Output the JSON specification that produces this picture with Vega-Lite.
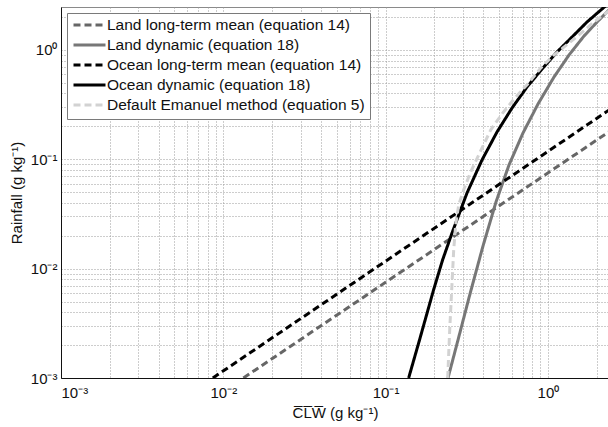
{
  "$schema": "https://vega.github.io/schema/vega-lite/v6.json",
  "width": 548,
  "height": 371,
  "autosize": {"type": "none"},
  "padding": {"left": 61, "top": 7, "right": 0, "bottom": 49},
  "background": "white",
  "config": {
    "view": {"stroke": "#8a8a8a", "strokeWidth": 1},
    "font": "Liberation Sans",
    "axis": {
      "labelFont": "Liberation Sans",
      "titleFont": "Liberation Sans",
      "labelFontSize": 15,
      "titleFontSize": 15,
      "titleFontWeight": "normal",
      "labelColor": "#111",
      "titleColor": "#111",
      "domainColor": "#111",
      "domainWidth": 1,
      "grid": true,
      "gridDash": [1, 2],
      "gridColor": "#9a9a9a",
      "gridWidth": 1,
      "ticks": false,
      "labelOverlap": false
    },
    "legend": {
      "labelFont": "Liberation Sans",
      "labelFontSize": 15.5,
      "labelColor": "#111",
      "labelLimit": 400
    }
  },
  "data": {
    "values": [
      {"s": "Land long-term mean (equation 14)", "x": 0.0133, "y": 0.001},
      {"s": "Land long-term mean (equation 14)", "x": 0.1, "y": 0.0075},
      {"s": "Land long-term mean (equation 14)", "x": 1.0, "y": 0.075},
      {"s": "Land long-term mean (equation 14)", "x": 2.38, "y": 0.1785},

      {"s": "Land dynamic (equation 18)", "x": 0.2424, "y": 0.001},
      {"s": "Land dynamic (equation 18)", "x": 0.2793, "y": 0.002223},
      {"s": "Land dynamic (equation 18)", "x": 0.3311, "y": 0.005861},
      {"s": "Land dynamic (equation 18)", "x": 0.3982, "y": 0.01609},
      {"s": "Land dynamic (equation 18)", "x": 0.4788, "y": 0.04064},
      {"s": "Land dynamic (equation 18)", "x": 0.5758, "y": 0.08858},
      {"s": "Land dynamic (equation 18)", "x": 0.7023, "y": 0.1738},
      {"s": "Land dynamic (equation 18)", "x": 0.869, "y": 0.3201},
      {"s": "Land dynamic (equation 18)", "x": 1.0904, "y": 0.5651},
      {"s": "Land dynamic (equation 18)", "x": 1.349, "y": 0.8983},
      {"s": "Land dynamic (equation 18)", "x": 1.669, "y": 1.34},
      {"s": "Land dynamic (equation 18)", "x": 2.007, "y": 1.799},
      {"s": "Land dynamic (equation 18)", "x": 2.379, "y": 2.317},

      {"s": "Ocean long-term mean (equation 14)", "x": 0.00862, "y": 0.001},
      {"s": "Ocean long-term mean (equation 14)", "x": 0.1, "y": 0.0117},
      {"s": "Ocean long-term mean (equation 14)", "x": 1.0, "y": 0.118},
      {"s": "Ocean long-term mean (equation 14)", "x": 2.38, "y": 0.282},

      {"s": "Ocean dynamic (equation 18)", "x": 0.1387, "y": 0.001},
      {"s": "Ocean dynamic (equation 18)", "x": 0.1621, "y": 0.002247},
      {"s": "Ocean dynamic (equation 18)", "x": 0.1978, "y": 0.00643},
      {"s": "Ocean dynamic (equation 18)", "x": 0.2248, "y": 0.01208},
      {"s": "Ocean dynamic (equation 18)", "x": 0.2566, "y": 0.02116},
      {"s": "Ocean dynamic (equation 18)", "x": 0.3173, "y": 0.04913},
      {"s": "Ocean dynamic (equation 18)", "x": 0.3926, "y": 0.09843},
      {"s": "Ocean dynamic (equation 18)", "x": 0.4857, "y": 0.1775},
      {"s": "Ocean dynamic (equation 18)", "x": 0.6008, "y": 0.2942},
      {"s": "Ocean dynamic (equation 18)", "x": 0.7433, "y": 0.4578},
      {"s": "Ocean dynamic (equation 18)", "x": 0.9196, "y": 0.6686},
      {"s": "Ocean dynamic (equation 18)", "x": 1.138, "y": 0.9568},
      {"s": "Ocean dynamic (equation 18)", "x": 1.408, "y": 1.312},
      {"s": "Ocean dynamic (equation 18)", "x": 1.741, "y": 1.799},
      {"s": "Ocean dynamic (equation 18)", "x": 2.154, "y": 2.366},
      {"s": "Ocean dynamic (equation 18)", "x": 2.379, "y": 2.685},

      {"s": "Default Emanuel method (equation 5)", "x": 0.2414, "y": 0.001},
      {"s": "Default Emanuel method (equation 5)", "x": 0.2484, "y": 0.002773},
      {"s": "Default Emanuel method (equation 5)", "x": 0.2555, "y": 0.00643},
      {"s": "Default Emanuel method (equation 5)", "x": 0.2629, "y": 0.01491},
      {"s": "Default Emanuel method (equation 5)", "x": 0.2704, "y": 0.02522},
      {"s": "Default Emanuel method (equation 5)", "x": 0.2822, "y": 0.03841},
      {"s": "Default Emanuel method (equation 5)", "x": 0.303, "y": 0.05266},
      {"s": "Default Emanuel method (equation 5)", "x": 0.3347, "y": 0.07688},
      {"s": "Default Emanuel method (equation 5)", "x": 0.3751, "y": 0.1099},
      {"s": "Default Emanuel method (equation 5)", "x": 0.4447, "y": 0.1859},
      {"s": "Default Emanuel method (equation 5)", "x": 0.5275, "y": 0.2659},
      {"s": "Default Emanuel method (equation 5)", "x": 0.6346, "y": 0.3722},
      {"s": "Default Emanuel method (equation 5)", "x": 0.7522, "y": 0.4891},
      {"s": "Default Emanuel method (equation 5)", "x": 0.9054, "y": 0.685},
      {"s": "Default Emanuel method (equation 5)", "x": 1.074, "y": 0.8814},
      {"s": "Default Emanuel method (equation 5)", "x": 1.238, "y": 1.043},
      {"s": "Default Emanuel method (equation 5)", "x": 1.554, "y": 1.371},
      {"s": "Default Emanuel method (equation 5)", "x": 1.923, "y": 1.802},
      {"s": "Default Emanuel method (equation 5)", "x": 2.379, "y": 2.271}
    ]
  },
  "mark": {"type": "line", "clip": true, "strokeCap": "butt", "strokeJoin": "round"},
  "encoding": {
    "x": {
      "field": "x",
      "type": "quantitative",
      "scale": {"type": "log", "domain": [0.001, 2.38], "nice": false},
      "axis": {
        "values": [0.001, 0.002, 0.003, 0.004, 0.005, 0.006, 0.007, 0.008, 0.009, 0.01, 0.02, 0.03, 0.04, 0.05, 0.06, 0.07, 0.08, 0.09, 0.1, 0.2, 0.3, 0.4, 0.5, 0.6, 0.7, 0.8, 0.9, 1, 2],
        "labelExpr": "datum.value === 0.001 ? '10⁻³' : datum.value === 0.01 ? '10⁻²' : datum.value === 0.1 ? '10⁻¹' : datum.value === 1 ? '10⁰' : ''",
        "labelPadding": 7,
        "title": "C̅L̅W̅ (g kg⁻¹)",
        "titlePadding": 5
      }
    },
    "y": {
      "field": "y",
      "type": "quantitative",
      "scale": {"type": "log", "domain": [0.001, 2.47], "nice": false},
      "axis": {
        "values": [0.001, 0.002, 0.003, 0.004, 0.005, 0.006, 0.007, 0.008, 0.009, 0.01, 0.02, 0.03, 0.04, 0.05, 0.06, 0.07, 0.08, 0.09, 0.1, 0.2, 0.3, 0.4, 0.5, 0.6, 0.7, 0.8, 0.9, 1, 2],
        "labelExpr": "datum.value === 0.001 ? '10⁻³' : datum.value === 0.01 ? '10⁻²' : datum.value === 0.1 ? '10⁻¹' : datum.value === 1 ? '10⁰' : ''",
        "labelPadding": 4,
        "title": "Rainfall (g kg⁻¹)",
        "titlePadding": 6
      }
    },
    "color": {
      "field": "s",
      "type": "nominal",
      "scale": {
        "domain": ["Land long-term mean (equation 14)", "Land dynamic (equation 18)", "Ocean long-term mean (equation 14)", "Ocean dynamic (equation 18)", "Default Emanuel method (equation 5)"],
        "range": ["#666666", "#777777", "#000000", "#000000", "#d2d2d2"]
      },
      "legend": {
        "title": null,
        "orient": "none",
        "legendX": 6,
        "legendY": 6,
        "symbolType": "stroke",
        "symbolSize": 1024,
        "clipHeight": 14,
        "rowPadding": 4,
        "padding": 5,
        "labelOffset": 0,
        "strokeColor": "#7a7a7a",
        "fillColor": "white"
      }
    },
    "strokeDash": {
      "field": "s",
      "type": "nominal",
      "scale": {
        "domain": ["Land long-term mean (equation 14)", "Land dynamic (equation 18)", "Ocean long-term mean (equation 14)", "Ocean dynamic (equation 18)", "Default Emanuel method (equation 5)"],
        "range": [[7, 4], [1, 0], [7, 4], [1, 0], [7, 4]]
      },
      "legend": {
        "title": null,
        "orient": "none",
        "legendX": 6,
        "legendY": 6,
        "symbolType": "stroke",
        "symbolSize": 1024,
        "clipHeight": 14,
        "rowPadding": 4,
        "padding": 5,
        "labelOffset": 0,
        "strokeColor": "#7a7a7a",
        "fillColor": "white"
      }
    },
    "strokeWidth": {
      "field": "s",
      "type": "nominal",
      "scale": {
        "domain": ["Land long-term mean (equation 14)", "Land dynamic (equation 18)", "Ocean long-term mean (equation 14)", "Ocean dynamic (equation 18)", "Default Emanuel method (equation 5)"],
        "range": [3, 3, 3, 2.5, 4]
      },
      "legend": {
        "title": null,
        "orient": "none",
        "legendX": 6,
        "legendY": 6,
        "symbolType": "stroke",
        "symbolSize": 1024,
        "clipHeight": 14,
        "rowPadding": 4,
        "padding": 5,
        "labelOffset": 0,
        "strokeColor": "#7a7a7a",
        "fillColor": "white"
      }
    }
  }
}
